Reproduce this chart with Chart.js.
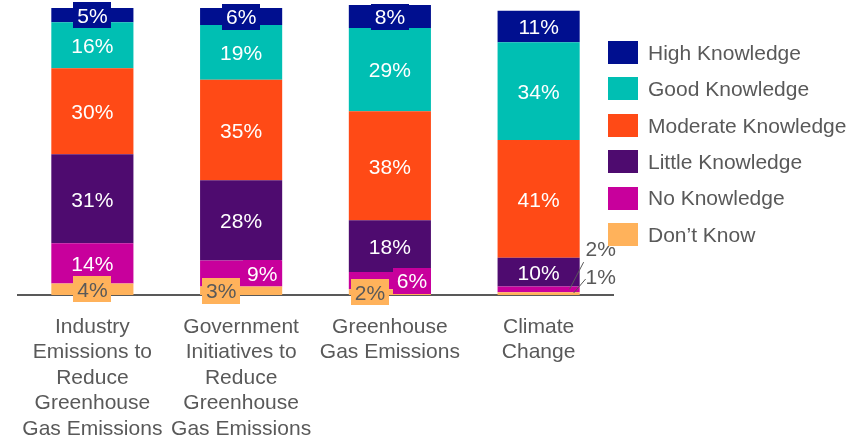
<!DOCTYPE html>
<html>
<head>
<meta charset="utf-8">
<script src="https://cdn.jsdelivr.net/npm/chart.js@4"></script>
<style>
    html, body { margin: 0; padding: 0; background: #fff; }
</style>
</head>
<body>
<canvas id="knowledgeChart" width="864" height="438"></canvas>
<script>
const topics = [
    ['Industry', 'Emissions to', 'Reduce', 'Greenhouse', 'Gas Emissions'],
    ['Government', 'Initiatives to', 'Reduce', 'Greenhouse', 'Gas Emissions'],
    ['Greenhouse', 'Gas Emissions'],
    ['Climate', 'Change']
];

// stacked bottom to top
const dontKnow = [4, 3, 2, 1];
const noKnowledge = [14, 9, 6, 2];
const littleKnowledge = [31, 28, 18, 10];
const moderateKnowledge = [30, 35, 38, 41];
const goodKnowledge = [16, 19, 29, 34];
const highKnowledge = [5, 6, 8, 11];

const FONT = "'Liberation Sans', Arial, sans-serif";
const GREY = '#595959';

// horizontal nudges for labels that would overlap, keyed "dataset,bar"
const labelShift = { '0,1': -20, '1,1': 21, '0,2': -20, '1,2': 22 };
// tiny slices labelled outside the bar with a leader line
const callouts = {
    '1,3': { from: [31, -3], to: [45, -30], at: [62, -42] },
    '0,3': { from: [35, -2], to: [47, -16], at: [62, -17] }
};

const segmentLabels = {
    id: 'segmentLabels',
    afterDatasetsDraw(chart) {
        const ctx = chart.ctx;
        ctx.save();
        ctx.font = '21px ' + FONT;
        ctx.textBaseline = 'middle';
        chart.data.datasets.forEach((ds, di) => {
            chart.getDatasetMeta(di).data.forEach((bar, i) => {
                const text = ds.data[i] + '%';
                const key = di + ',' + i;
                const c = callouts[key];
                if (c) {
                    ctx.strokeStyle = GREY;
                    ctx.lineWidth = 1;
                    ctx.beginPath();
                    ctx.moveTo(bar.x + c.from[0], bar.base + c.from[1]);
                    ctx.lineTo(bar.x + c.to[0], bar.base + c.to[1]);
                    ctx.stroke();
                    ctx.fillStyle = GREY;
                    ctx.textAlign = 'center';
                    ctx.fillText(text, bar.x + c.at[0], bar.base + c.at[1]);
                    return;
                }
                const x = bar.x + (labelShift[key] || 0);
                const y = (bar.y + bar.base) / 2;
                const w = ctx.measureText(text).width + 8;
                ctx.fillStyle = ds.backgroundColor;
                ctx.fillRect(Math.round(x - w / 2), Math.round(y - 13), Math.round(w), 26);
                ctx.fillStyle = ds.labelColor;
                ctx.textAlign = 'center';
                ctx.fillText(text, x, y + 2);
            });
        });
        ctx.restore();
    }
};

const sideLegend = {
    id: 'sideLegend',
    afterDraw(chart) {
        const ctx = chart.ctx;
        ctx.save();
        ctx.font = '21px ' + FONT;
        ctx.textBaseline = 'middle';
        ctx.textAlign = 'left';
        const items = chart.data.datasets.slice().reverse();
        items.forEach((ds, k) => {
            const top = 41 + k * 36.4;
            ctx.fillStyle = ds.backgroundColor;
            ctx.fillRect(608, Math.round(top), 30, 23);
            ctx.fillStyle = GREY;
            ctx.fillText(ds.label, 648, top + 13);
        });
        ctx.restore();
    }
};

function series(label, data, color, labelColor) {
    return { label, data, backgroundColor: color, labelColor, borderWidth: 0 };
}

new Chart(document.getElementById('knowledgeChart'), {
    type: 'bar',
    data: {
        labels: topics,
        datasets: [
            series('Don\u2019t Know', dontKnow, '#FFB25B', GREY),
            series('No Knowledge', noKnowledge, '#C8009C', '#fff'),
            series('Little Knowledge', littleKnowledge, '#4E0B6F', '#fff'),
            series('Moderate Knowledge', moderateKnowledge, '#FF4A16', '#fff'),
            series('Good Knowledge', goodKnowledge, '#00BFB3', '#fff'),
            series('High Knowledge', highKnowledge, '#000F8F', '#fff')
        ]
    },
    options: {
        responsive: false,
        animation: false,
        layout: { padding: { top: 1, left: 18, right: 251, bottom: 0 } },
        datasets: { bar: { barPercentage: 1, categoryPercentage: 0.552 } },
        plugins: { legend: { display: false }, tooltip: { enabled: false } },
        scales: {
            x: {
                stacked: true,
                grid: { display: false, drawTicks: false },
                border: { display: true, color: GREY, width: 2 },
                ticks: {
                    color: GREY,
                    padding: 19,
                    maxRotation: 0,
                    autoSkip: false,
                    font: { family: FONT, size: 21, lineHeight: 1.214 }
                },
                afterFit(axis) { axis.height = 143; }
            },
            y: {
                stacked: true,
                display: false,
                min: 0,
                max: 102.4
            }
        }
    },
    plugins: [segmentLabels, sideLegend]
});
</script>
</body>
</html>
